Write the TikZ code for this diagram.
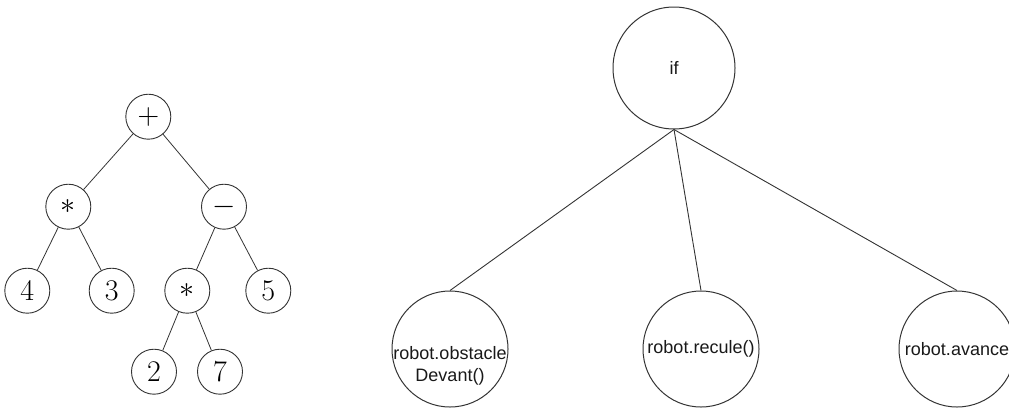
\RequirePackage{fix-cm}
\documentclass[tikz,border=0pt]{standalone}
\usepackage{fontspec}
\newfontfamily\arialf{Liberation Sans}
\begin{document}
\begin{tikzpicture}[x=1pt,y=-1pt,
  op/.style={circle,draw=black!80,line width=0.9pt,minimum size=45pt,inner sep=0pt,font=\fontsize{30}{30}\selectfont},
  edgeL/.style={draw=black!80,line width=0.8pt},
  big/.style={circle,draw=black!80,line width=1pt,inner sep=0pt,text=black!90,font=\arialf\fontsize{18}{22}\selectfont},
  lbl/.style={inner sep=0pt,align=center,text=black!90,font=\arialf\fontsize{18}{22}\selectfont},
  edgeR/.style={draw=black!80,line width=0.9pt}]
\useasboundingbox (0,0) rectangle (1009,408);
% left expression tree
\node[op] (plus) at (148.3,116.7) {$+$};
\node[op] (mulA) at (68.3,206.7) {$\ast$};
\node[op] (minus) at (224,206.7) {$-$};
\node[op] (four) at (27.3,290.7) {4};
\node[op] (three) at (111.7,290.7) {3};
\node[op] (mulB) at (187.3,290.7) {$\ast$};
\node[op] (five) at (268.3,290.7) {5};
\node[op] (two) at (154,371.7) {2};
\node[op] (seven) at (220,371.7) {7};
\draw[edgeL] (plus) -- (mulA);
\draw[edgeL] (plus) -- (minus);
\draw[edgeL] (mulA) -- (four);
\draw[edgeL] (mulA) -- (three);
\draw[edgeL] (minus) -- (mulB);
\draw[edgeL] (minus) -- (five);
\draw[edgeL] (mulB) -- (two);
\draw[edgeL] (mulB) -- (seven);
% right tree
\node[big,minimum size=122pt] (if) at (674,68) {if};
\node[big,minimum size=116pt] (obs) at (450,349) {};
\node[lbl] (obst) at (450,366) {robot.obstacle\\Devant()};
\node[big,minimum size=116pt] (rec) at (701,349) {robot.recule()};
\node[big,minimum size=116pt] (ava) at (957,349) {robot.avance};
\draw[edgeR] (if.south) -- (obs.north);
\draw[edgeR] (if.south) -- (rec.north);
\draw[edgeR] (if.south) -- (ava.north);
\end{tikzpicture}
\end{document}
